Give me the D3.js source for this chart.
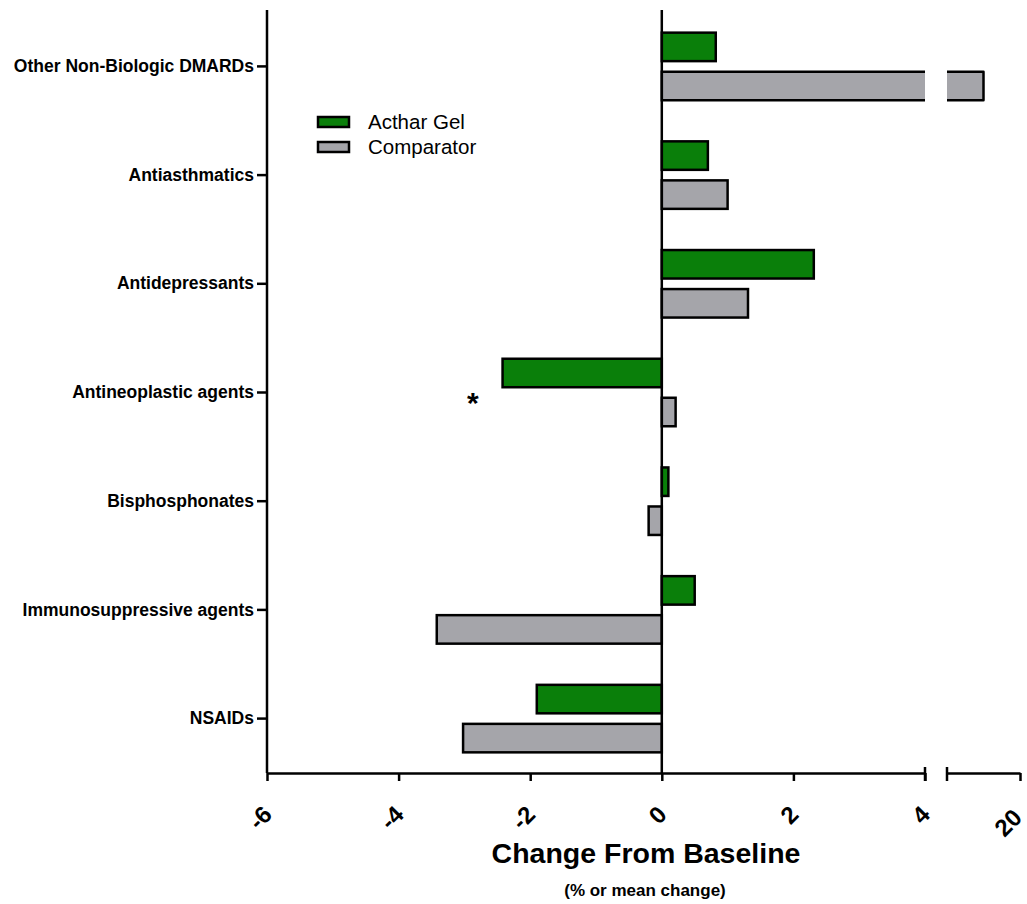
<!DOCTYPE html>
<html>
<head>
<meta charset="utf-8">
<script src="https://cdn.jsdelivr.net/npm/d3@7"></script>
<style>
  body { margin: 0; background: #fff; }
  svg { font-family: "Liberation Sans", Arial, sans-serif; }
</style>
</head>
<body>
<div id="chart-area"></div>
<script>
// categories top to bottom
var categories = [
    "Other Non-Biologic DMARDs",
    "Antiasthmatics",
    "Antidepressants",
    "Antineoplastic agents",
    "Bisphosphonates",
    "Immunosuppressive agents",
    "NSAIDs"
];
var seriesNames = ["Acthar Gel", "Comparator"];
var actharValues = [0.82, 0.70, 2.31, -2.42, 0.10, 0.50, -1.90];
var comparatorValues = [17.5, 1.00, 1.31, 0.21, -0.20, -3.42, -3.02];
var lowTicks = [-6, -4, -2, 0, 2, 4];
var highTicks = [20];
var lowDomain = [-6, 4];
var highDomain = [15, 20];
// significance marker
var starCategory = "Antineoplastic agents";
var starValue = -2.87;

var colors = { "Acthar Gel": "#0a7f0a", "Comparator": "#a5a5aa" };

var w = 1027, h = 904;

var svg = d3.select("#chart-area")
    .append("svg")
    .attr("width", w)
    .attr("height", h);

// broken x axis: two linear pieces
var xLow = d3.scaleLinear().domain(lowDomain).range([267, 925]);
var xHigh = d3.scaleLinear().domain(highDomain).range([947, 1020]);
var axisY = 773;

var y0 = d3.scaleBand()
    .domain(categories)
    .range([12, axisY])
    .paddingInner(0.379)
    .paddingOuter(0.19);

var y1 = d3.scaleBand()
    .domain(seriesNames)
    .range([0, y0.bandwidth()])
    .paddingInner(0.27);

var rows = [];
categories.forEach(function (c, i) {
    rows.push({ cat: c, series: "Acthar Gel", value: actharValues[i] });
    rows.push({ cat: c, series: "Comparator", value: comparatorValues[i] });
});

var bars = svg.append("g").attr("class", "bars");
var breakAt = lowDomain[1];

rows.forEach(function (d) {
    var top = y0(d.cat) + y1(d.series);
    var bh = y1.bandwidth();
    var bot = top + bh;
    var g = bars.append("g");
    if (d.value <= breakAt) {
        var xa = xLow(Math.min(0, d.value)), xb = xLow(Math.max(0, d.value));
        g.append("rect")
            .attr("x", xa).attr("y", top)
            .attr("width", xb - xa).attr("height", bh)
            .attr("fill", colors[d.series])
            .attr("stroke", "#000")
            .attr("stroke-width", 2.5);
    } else {
        // first piece, open on the right
        var a0 = xLow(0), a1 = xLow(breakAt);
        g.append("rect")
            .attr("x", a0).attr("y", top)
            .attr("width", a1 - a0).attr("height", bh)
            .attr("fill", colors[d.series]);
        g.append("path")
            .attr("d", "M" + a1 + "," + top + "H" + a0 + "V" + bot + "H" + a1)
            .attr("fill", "none").attr("stroke", "#000").attr("stroke-width", 2.5);
        // second piece, open on the left
        var b0 = xHigh(highDomain[0]), b1 = xHigh(d.value);
        g.append("rect")
            .attr("x", b0).attr("y", top)
            .attr("width", b1 - b0).attr("height", bh)
            .attr("fill", colors[d.series]);
        g.append("path")
            .attr("d", "M" + b0 + "," + top + "H" + b1 + "V" + bot + "H" + b0)
            .attr("fill", "none").attr("stroke", "#000").attr("stroke-width", 2.5)
            .attr("stroke-linejoin", "round");
    }
});

// zero line
svg.append("line")
    .attr("x1", xLow(0)).attr("x2", xLow(0))
    .attr("y1", 10).attr("y2", axisY)
    .attr("stroke", "#000").attr("stroke-width", 2.5);

// left axis with categories
var yAxis = d3.axisLeft(y0).tickSize(10).tickSizeOuter(0).tickPadding(3);
var gy = svg.append("g")
    .attr("transform", "translate(" + xLow.range()[0] + ",0)")
    .call(yAxis);
gy.select(".domain").attr("d", "M0,10V" + axisY);
gy.selectAll("path, line").attr("stroke", "#000").attr("stroke-width", 2.5);
gy.selectAll("text")
    .attr("font-size", "17.5px")
    .attr("font-weight", "bold")
    .attr("fill", "#000")
    .attr("font-family", "'Liberation Sans', Arial, sans-serif");

// bottom axes, two segments
function styleX(g) {
    g.selectAll("path, line").attr("stroke", "#000").attr("stroke-width", 2.5);
    g.selectAll("text")
        .attr("x", 0).attr("y", 0).attr("dy", null)
        .attr("text-anchor", "end")
        .attr("transform", "translate(6,43) rotate(-45)")
        .attr("font-size", "24px")
        .attr("font-weight", "bold")
        .attr("fill", "#000")
        .attr("font-family", "'Liberation Sans', Arial, sans-serif");
}

var fmt = function (d) { return String(d); };

var gxLow = svg.append("g")
    .attr("transform", "translate(0," + axisY + ")")
    .call(d3.axisBottom(xLow).tickValues(lowTicks).tickFormat(fmt).tickSize(8).tickSizeOuter(0));
styleX(gxLow);

var gxHigh = svg.append("g")
    .attr("transform", "translate(0," + axisY + ")")
    .call(d3.axisBottom(xHigh).tickValues(highTicks).tickFormat(fmt).tickSize(8).tickSizeOuter(0));
styleX(gxHigh);
gxHigh.selectAll("text").attr("transform", "translate(3,46) rotate(-45)");

// break caps
[xLow.range()[1], xHigh.range()[0]].forEach(function (bx) {
    svg.append("line")
        .attr("x1", bx).attr("x2", bx)
        .attr("y1", axisY - 6).attr("y2", axisY + 8)
        .attr("stroke", "#000").attr("stroke-width", 2.5);
});

// asterisk
svg.append("text")
    .attr("x", xLow(starValue))
    .attr("y", y0(starCategory) + y0.bandwidth() / 2 + 20)
    .attr("text-anchor", "middle")
    .attr("font-size", "30px")
    .attr("font-weight", "bold")
    .text("*");

// legend
var legend = svg.append("g").attr("transform", "translate(318,117)");
seriesNames.forEach(function (s, i) {
    var lg = legend.append("g").attr("transform", "translate(0," + (i * 25) + ")");
    lg.append("rect")
        .attr("width", 31).attr("height", 10)
        .attr("fill", colors[s])
        .attr("stroke", "#000").attr("stroke-width", 2.5);
    lg.append("text")
        .attr("x", 50).attr("y", 12)
        .attr("font-size", "20.5px")
        .text(s);
});

// axis titles
svg.append("text")
    .attr("x", 646).attr("y", 863)
    .attr("text-anchor", "middle")
    .attr("font-size", "28.5px")
    .attr("font-weight", "bold")
    .text("Change From Baseline");

svg.append("text")
    .attr("x", 645).attr("y", 896)
    .attr("text-anchor", "middle")
    .attr("font-size", "17px")
    .attr("font-weight", "bold")
    .text("(% or mean change)");
</script>
</body>
</html>
